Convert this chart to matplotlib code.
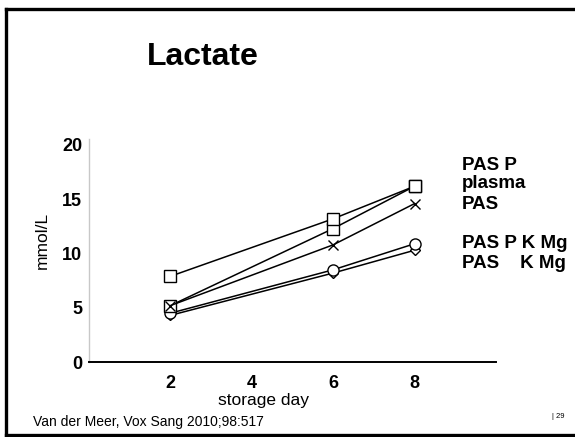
import matplotlib
matplotlib.use("Agg")
import matplotlib.pyplot as plt
from matplotlib.lines import Line2D

plt.rcParams['font.family'] = ['Liberation Sans', 'DejaVu Sans']

# data
days = [2, 6, 8]
pas_p = [7.9, 13.2, 16.2]
plasma = [5.2, 12.3, 16.2]
pas = [5.2, 10.8, 14.6]
pas_p_k_mg = [4.5, 8.5, 10.9]
pas_k_mg = [4.3, 8.2, 10.3]

series_labels = ["PAS P", "plasma", "PAS", "PAS P K Mg", "PAS    K Mg"]
xticks = [2, 4, 6, 8]
yticks = [0, 5, 10, 15, 20]

fig = plt.figure(figsize=(5.75, 4.37), dpi=100)
ax = fig.add_axes([0.1548, 0.1716, 0.7078, 0.5103])

mk = dict(color='black', lw=1.1, markerfacecolor='white',
          markeredgecolor='black', markeredgewidth=1.0)
ax.plot(days, pas_k_mg, marker='D', markersize=5.5, **mk)
ax.plot(days, pas_p_k_mg, marker='o', markersize=8, **mk)
ax.plot(days, plasma, marker='s', markersize=8, **mk)
ax.plot(days, pas_p, marker='s', markersize=8, **mk)
ax.plot(days, pas, marker='x', markersize=7, color='black', lw=1.1,
        markeredgewidth=1.0)

ax.set_xlim(0, 10)
ax.set_ylim(0, 20.55)
ax.set_xticks(xticks)
ax.set_yticks(yticks)
ax.tick_params(length=0)
ax.tick_params(axis='y', pad=5, labelsize=13)
ax.tick_params(axis='x', pad=9, labelsize=13)
for lab in ax.get_xticklabels() + ax.get_yticklabels():
    lab.set_fontweight('bold')
ax.spines['top'].set_visible(False)
ax.spines['right'].set_visible(False)
ax.spines['left'].set_color('#c8c8c8')
ax.spines['left'].set_linewidth(1.0)
ax.spines['bottom'].set_linewidth(1.4)

# titles and notes
fig.text(203 / 575, 1 - 57 / 437, "Lactate", fontsize=23, fontweight='bold',
         ha='center', va='center')
fig.text(42 / 575, 1 - 240 / 437, "mmol/L", fontsize=12.5, rotation=90,
         ha='center', va='center')
fig.text(263 / 575, 1 - 400 / 437, "storage day", fontsize=12.5,
         ha='center', va='center')
fig.text(33 / 575, 1 - 422 / 437, "Van der Meer, Vox Sang 2010;98:517",
         fontsize=10, ha='left', va='center')
fig.text(552 / 575, 1 - 416 / 437, "| 29", fontsize=5.5, ha='left', va='center')

# right hand series names
label_y = [165, 184, 204, 243, 263]
for name, yy in zip(series_labels, label_y):
    fig.text(462 / 575, 1 - yy / 437, name, fontsize=13.5, fontweight='bold',
             ha='left', va='center')

# slide frame (right side cut off)
for xs, ys in [((6, 600), (9, 9)), ((6, 6), (9, 435)), ((6, 600), (435, 435))]:
    fig.add_artist(Line2D([x / 575 for x in xs], [1 - y / 437 for y in ys],
                          transform=fig.transFigure, color='black', lw=2.4))

fig.savefig("out.png", dpi=100)
